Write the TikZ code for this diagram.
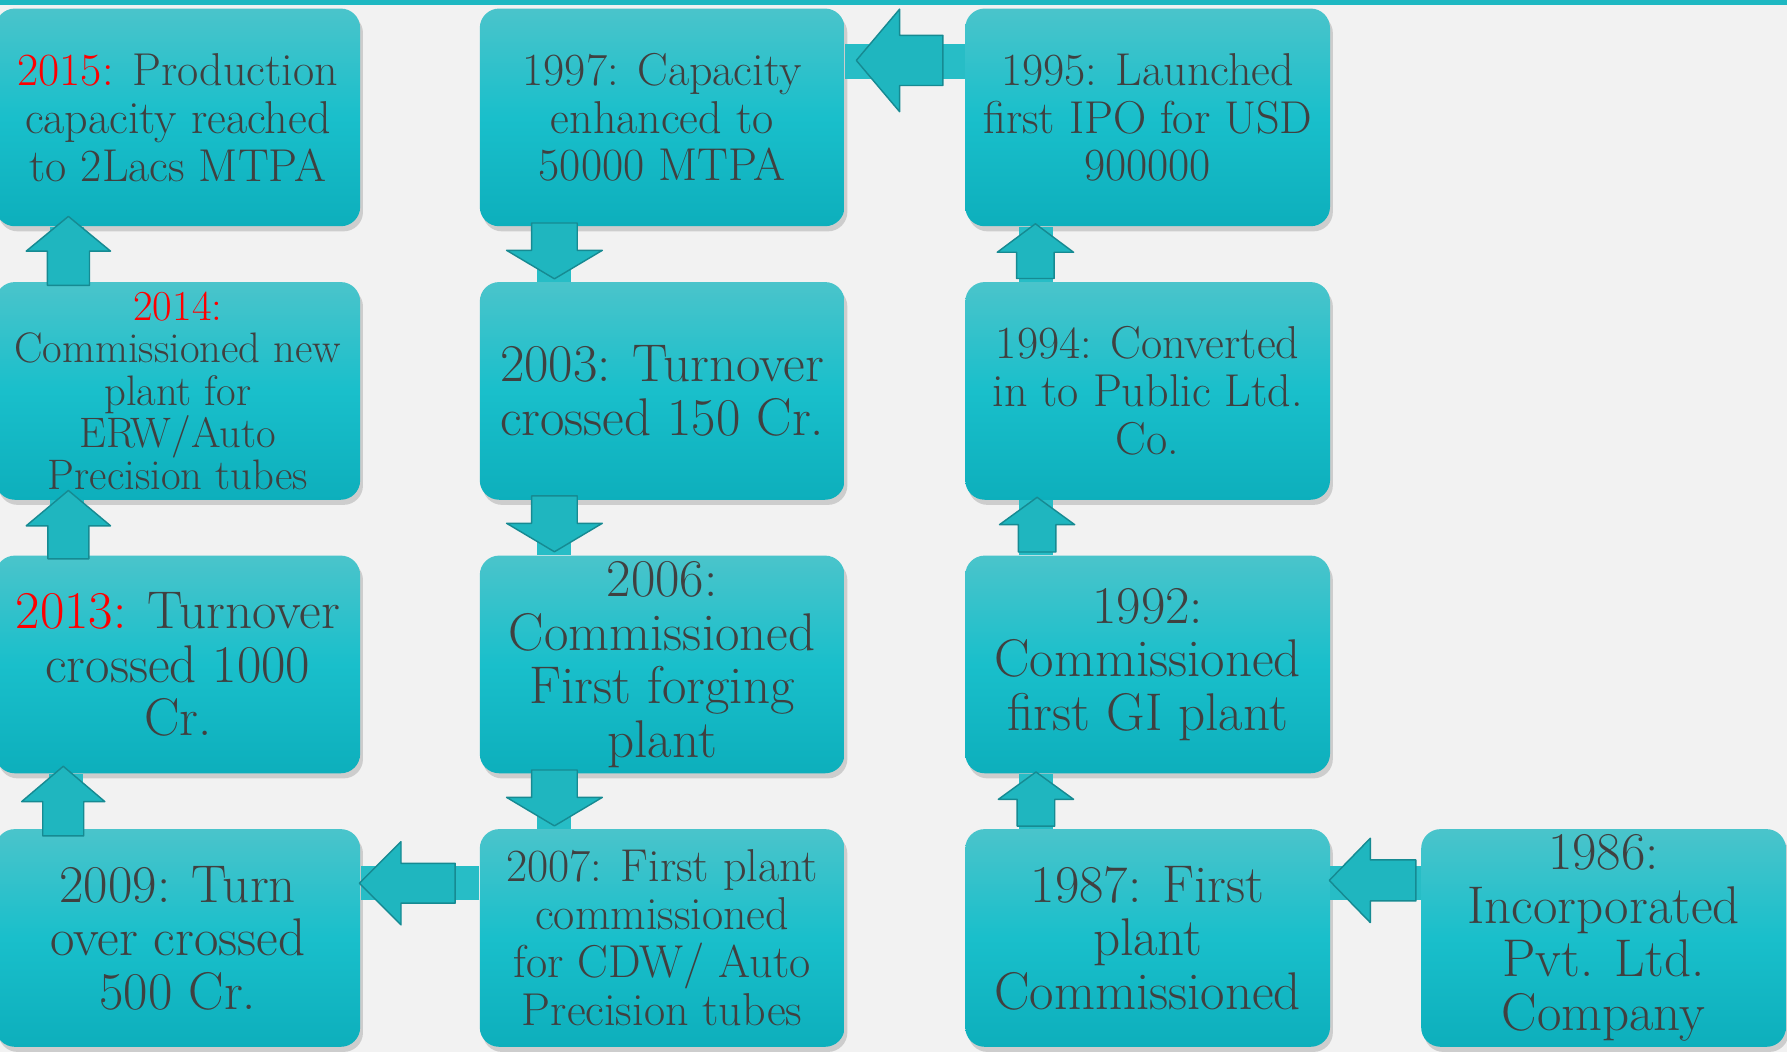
\documentclass[tikz,border=0pt]{standalone}
\usetikzlibrary{calc,shadows}
\definecolor{pagebg}{HTML}{F2F2F2}
\definecolor{topband}{HTML}{1EB8C2}
\definecolor{boxtop}{HTML}{4AC4CB}
\definecolor{boxmid}{HTML}{19BFCB}
\definecolor{boxbot}{HTML}{0DAFBC}
\definecolor{barteal}{HTML}{27BDC6}
\definecolor{arrowfill}{HTML}{1FB6BF}
\definecolor{arrowline}{HTML}{168A92}
\definecolor{txtgray}{HTML}{404040}
\begin{document}
\begin{tikzpicture}[x=0.2mm, y=-0.2mm, line join=round,
  yearbox/.style={rounded corners=3.4mm, minimum width=64mm, minimum height=38.2mm, inner sep=0pt, align=center, text=txtgray,
    top color=boxtop, bottom color=boxbot, middle color=boxmid,
    drop shadow={shadow xshift=0.5mm, shadow yshift=-0.9mm, opacity=0.32}},
  bigtxt/.style={font=\fontsize{26.5}{26.7}\selectfont},
  midtxt/.style={font=\fontsize{23}{23.9}\selectfont},
  smalltxt/.style={font=\fontsize{21.3}{21}\selectfont},
  link/.style={line width=6mm, draw=barteal},
  blk/.style={fill=arrowfill, draw=arrowline, line width=0.25mm},
  pics/blockarrow/.style n args={4}{code={\path[blk] (0,0) -- (-#4,#3) -- (-#4,#2) -- (-#1,#2) -- (-#1,-#2) -- (-#4,-#2) -- (-#4,-#3) -- cycle;}}]
  \useasboundingbox (0,0) rectangle (1568,923);
  \fill[pagebg] (0,0) rectangle (1568,923);
  \fill[topband] (0,0) rectangle (1568,4.5);

  \node[yearbox, midtxt] (y2015) at (156,103) {\textcolor{red}{2015:} Production\\capacity reached\\to 2Lacs MTPA};
  \node[yearbox, smalltxt] (y2014) at (156,343) {\textcolor{red}{2014:}\\Commissioned new\\plant for\\ERW/Auto\\Precision tubes};
  \node[yearbox, bigtxt] (y2013) at (156,583) {\textcolor{red}{2013:} Turnover\\crossed 1000\\Cr.};
  \node[yearbox, bigtxt] (y2009) at (156,823) {2009: Turn\\over crossed\\500 Cr.};
  \node[yearbox, midtxt] (y1997) at (581,103) {1997: Capacity\\enhanced to\\50000 MTPA};
  \node[yearbox, bigtxt] (y2003) at (581,343) {2003: Turnover\\crossed 150 Cr.};
  \node[yearbox, bigtxt] (y2006) at (581,583) {2006:\\Commissioned\\First forging\\plant};
  \node[yearbox, midtxt] (y2007) at (581,823) {2007: First plant\\commissioned\\for CDW/ Auto\\Precision tubes};
  \node[yearbox, midtxt] (y1995) at (1007,103) {1995: Launched\\first IPO for USD\\900000};
  \node[yearbox, midtxt] (y1994) at (1007,343) {1994: Converted\\in to Public Ltd.\\Co.};
  \node[yearbox, bigtxt] (y1992) at (1007,583) {1992:\\Commissioned\\first GI plant};
  \node[yearbox, bigtxt] (y1987) at (1007,823) {1987: First\\plant\\Commissioned};
  \node[yearbox, bigtxt] (y1986) at (1407,823) {1986:\\Incorporated\\Pvt. Ltd.\\Company};

  \draw[link] ($(y1995.west)+(0,-49)$) -- ($(y1997.east)+(0,-49)$);
  \draw[link] ($(y1997.south)+(-95,0)$) -- ($(y2003.north)+(-95,0)$);
  \draw[link] ($(y2003.south)+(-95,0)$) -- ($(y2006.north)+(-95,0)$);
  \draw[link] ($(y2006.south)+(-95,0)$) -- ($(y2007.north)+(-95,0)$);
  \draw[link] ($(y2007.west)+(0,-48)$) -- ($(y2009.east)+(0,-48)$);
  \draw[link] ($(y2009.north)+(-98,0)$) -- ($(y2013.south)+(-98,0)$);
  \draw[link] ($(y2013.north)+(-97,0)$) -- ($(y2014.south)+(-97,0)$);
  \draw[link] ($(y2014.north)+(-97,0)$) -- ($(y2015.south)+(-97,0)$);
  \draw[link] ($(y1986.west)+(0,-48)$) -- ($(y1987.east)+(0,-48)$);
  \draw[link] ($(y1987.north)+(-98,0)$) -- ($(y1992.south)+(-98,0)$);
  \draw[link] ($(y1992.north)+(-98,0)$) -- ($(y1994.south)+(-98,0)$);
  \draw[link] ($(y1994.north)+(-98,0)$) -- ($(y1995.south)+(-98,0)$);

  \pic[rotate=180] at ($(y1997.east)+(10,-50)$) {blockarrow={76}{22}{45}{38}};
  \pic[rotate=-90] at ($(y2003.north)+(-94.5,-2.5)$) {blockarrow={49}{20}{42}{25}};
  \pic[rotate=-90] at ($(y2006.north)+(-94.5,-3)$) {blockarrow={49}{20}{42}{25}};
  \pic[rotate=-90] at ($(y2007.north)+(-94.5,-2.5)$) {blockarrow={49}{20}{42}{25}};
  \pic[rotate=180] at ($(y2009.east)+(-1,-48)$) {blockarrow={84}{17.5}{36.5}{36.5}};
  \pic[rotate=90] at ($(y2013.south)+(-100.5,-6.5)$) {blockarrow={61}{18}{36.5}{31}};
  \pic[rotate=90] at ($(y2014.south)+(-96,-8.5)$) {blockarrow={60}{18}{37}{31}};
  \pic[rotate=90] at ($(y2015.south)+(-96,-9)$) {blockarrow={60.5}{18.5}{37}{30.5}};
  \pic[rotate=180] at ($(y1987.east)+(-1,-50.5)$) {blockarrow={76}{18}{37}{36}};
  \pic[rotate=90] at ($(y1992.south)+(-98,-1.5)$) {blockarrow={47.5}{16.5}{33}{24}};
  \pic[rotate=90] at ($(y1994.south)+(-97,-2.5)$) {blockarrow={48}{16.5}{33}{24}};
  \pic[rotate=90] at ($(y1995.south)+(-98.5,-2.5)$) {blockarrow={48}{16.5}{33.5}{25}};
\end{tikzpicture}
\end{document}
